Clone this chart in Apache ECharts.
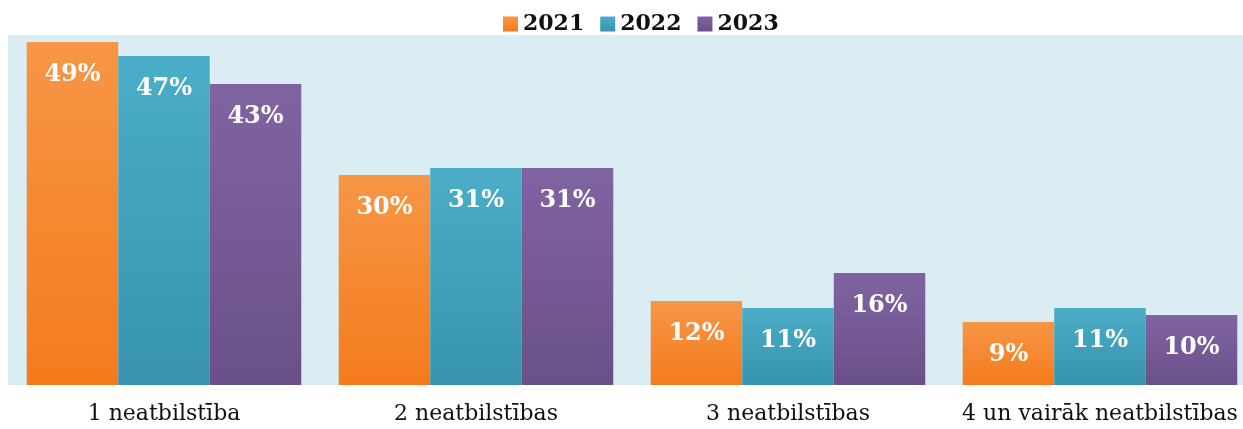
<!DOCTYPE html>
<html style="height: 100%">
   <head>
       <meta charset="utf-8">
   </head>
   <body style="height: 100%; margin: 0; background: #fff; overflow: hidden">
       <div id="container" style="width: 1256px; height: 429px"></div>
       <script type="text/javascript" src="https://cdn.jsdelivr.net/npm/echarts@6/dist/echarts.min.js"></script>
       <script type="text/javascript">
            var categories = ['1 neatbilstība', '2 neatbilstības', '3 neatbilstības', '4 un vairāk neatbilstības'];
            var years = ['2021', '2022', '2023'];
            var values2021 = [49, 30, 12, 9];
            var values2022 = [47, 31, 11, 11];
            var values2023 = [43, 31, 16, 10];

            var colors = [
                ['#f79646', '#f47b1c'],
                ['#4badc7', '#3793ad'],
                ['#8064a2', '#6a5088']
            ];
            var allValues = [values2021, values2022, values2023];

            var dom = document.getElementById("container");
            var myChart = echarts.init(dom);

            var series = years.map(function (y, i) {
                return {
                    name: y,
                    type: 'bar',
                    data: allValues[i],
                    barGap: '0%',
                    barCategoryGap: '12%',
                    itemStyle: {
                        borderWidth: 0,
                        color: new echarts.graphic.LinearGradient(0, 0, 0, 1, [
                            {offset: 0, color: colors[i][0]},
                            {offset: 1, color: colors[i][1]}
                        ])
                    },
                    label: {
                        show: true,
                        position: 'insideTop',
                        distance: 21,
                        formatter: '{c}%',
                        color: '#fff',
                        fontFamily: 'DejaVu Serif',
                        fontWeight: 'bold',
                        fontSize: 24
                    }
                };
            });

            var option = {
                animation: false,
                color: [colors[0][0], colors[1][0], colors[2][0]],
                legend: {
                    data: years,
                    left: 498,
                    top: 8,
                    itemWidth: 15,
                    itemHeight: 15,
                    itemGap: 16,
                    icon: 'rect',
                    textStyle: {
                        fontFamily: 'DejaVu Serif',
                        fontWeight: 'bold',
                        fontSize: 22,
                        color: '#111'
                    }
                },
                grid: {
                    left: 8,
                    right: 0,
                    top: 35,
                    bottom: 44,
                    show: true,
                    backgroundColor: '#daedf3',
                    borderWidth: 0,
                    containLabel: false
                },
                xAxis: {
                    type: 'category',
                    data: categories,
                    axisLine: {show: false},
                    axisTick: {show: false},
                    axisLabel: {
                        interval: 0,
                        margin: 18,
                        fontFamily: 'DejaVu Serif',
                        fontSize: 22,
                        color: '#111'
                    }
                },
                yAxis: {
                    type: 'value',
                    min: 0,
                    max: 50,
                    show: false,
                    splitLine: {show: false}
                },
                series: series
            };

            myChart.setOption(option);
       </script>
   </body>
</html>
